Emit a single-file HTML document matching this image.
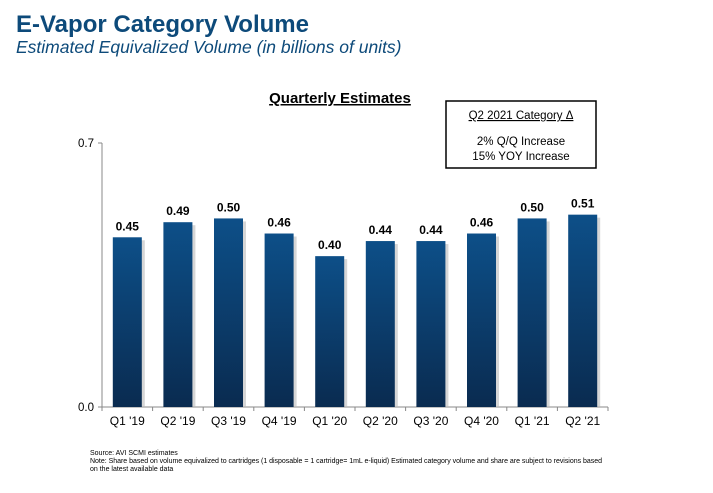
<!DOCTYPE html>
<html><head><meta charset="utf-8"><style>
body{margin:0;background:#fff;font-family:"Liberation Sans",sans-serif}
</style></head><body>
<svg width="713" height="488" xmlns="http://www.w3.org/2000/svg" font-family="Liberation Sans, sans-serif">
<defs>
<linearGradient id="bg" x1="0" y1="0" x2="0" y2="1"><stop offset="0" stop-color="#0d4f88"/><stop offset="1" stop-color="#0a2b50"/></linearGradient>
</defs>
<text x="16" y="32" font-size="24" font-weight="bold" fill="#0d4a7a">E-Vapor Category Volume</text>
<text x="16" y="53" font-size="17.5" font-style="italic" fill="#0d4a7a">Estimated Equivalized Volume (in billions of units)</text>
<text x="340" y="103" font-size="15" font-weight="bold" text-anchor="middle" text-decoration="underline">Quarterly Estimates</text>
<g>
<rect x="446" y="101" width="150" height="67" fill="#fff" stroke="#000" stroke-width="1.5"/>
<text x="521" y="119" font-size="11.5" text-anchor="middle" text-decoration="underline">Q2 2021  Category Δ</text>
<text x="521" y="145" font-size="11.5" text-anchor="middle">2% Q/Q Increase</text>
<text x="521" y="160" font-size="11.5" text-anchor="middle">15% YOY Increase</text>
</g>
<g id="axes"></g>
<g id="bars"></g>
<text x="90" y="455" font-size="7">Source: AVI SCMI estimates</text>
<text x="90" y="463" font-size="7" textLength="512">Note: Share based on volume equivalized to cartridges (1 disposable = 1 cartridge= 1mL e-liquid) Estimated category volume and share are subject to revisions based</text>
<text x="90" y="471" font-size="7">on the latest available data</text>
</svg>
<script>
const categories=["Q1 '19","Q2 '19","Q3 '19","Q4 '19","Q1 '20","Q2 '20","Q3 '20","Q4 '20","Q1 '21","Q2 '21"];
const values=[0.45,0.49,0.50,0.46,0.40,0.44,0.44,0.46,0.50,0.51];
const labels=["0.45","0.49","0.50","0.46","0.40","0.44","0.44","0.46","0.50","0.51"];
const yTicks=[0,0.7];
const yTickLabels=["0.0","0.7"];
const NS="http://www.w3.org/2000/svg";
const x0=102,x1=608,yTop=143,yBot=407,yMax=0.7;
const band=(x1-x0)/categories.length;
const y=v=>yBot-(v/yMax)*(yBot-yTop);
const xc=i=>x0+band*(i+0.5);
function mk(t,a,p){const e=document.createElementNS(NS,t);for(const k in a)e.setAttribute(k,a[k]);p.appendChild(e);return e;}
const ax=document.getElementById('axes'),bg=document.getElementById('bars');
const ya=mk('line',{x1:x0,y1:yTop,x2:x0,y2:yBot,stroke:'#888'},ax);


const xa=mk('line',{x1:x0,y1:yBot,x2:x1,y2:yBot,stroke:'#888'},ax);


yTicks.forEach((t,i)=>{
 mk('line',{x1:x0-4,y1:y(t),x2:x0,y2:y(t),stroke:'#888'},ax);
 const tx=mk('text',{x:x0-8,y:y(t)+4,'font-size':11.5,'text-anchor':'end'},ax);tx.textContent=yTickLabels[i];
 
 
});
for(let i=0;i<=categories.length;i++)mk('line',{x1:x0+band*i,y1:yBot,x2:x0+band*i,y2:yBot+4,stroke:'#888'},ax);
const bw=29;
categories.forEach((c,i)=>{
 const cx=xc(i),top=y(values[i]);
 mk('rect',{x:cx-bw/2+3,y:top+3,width:bw,height:yBot-top-3,fill:'#bbb',opacity:0.6},bg);
 const r=mk('rect',{x:cx-bw/2,y:top,width:bw,height:yBot-top,fill:'url(#bg)'},bg);
 
 
 const v=mk('text',{x:cx,y:top-7,'font-size':12,'font-weight':'bold','text-anchor':'middle'},bg);v.textContent=labels[i];
 
 
 const l=mk('text',{x:cx,y:yBot+18,'font-size':12,'text-anchor':'middle'},bg);l.textContent=c;
 
 
});
</script>
</body></html>
